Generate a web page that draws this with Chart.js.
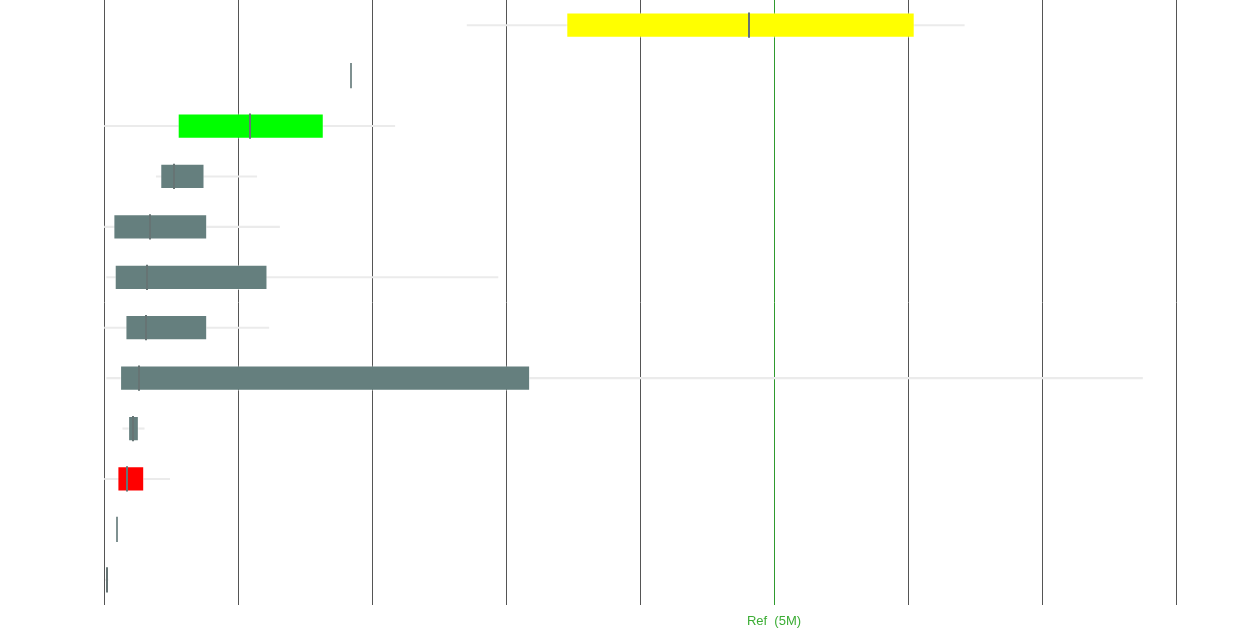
<!DOCTYPE html>
<html>
<head>
<meta charset="utf-8">
<script src="https://cdn.jsdelivr.net/npm/chart.js@4/dist/chart.umd.min.js"></script>
<style>
html,body{margin:0;padding:0;background:#fff;}
#wrap{width:1248px;height:632px;}
</style>
</head>
<body>
<div id="wrap"><canvas id="c" width="1248" height="632"></canvas></div>
<script>
// values in millions
const categories = ['A','B','C','D','E','F','G','H','I','J','K','L'];
const whiskerMin = [2.71, 1.84, 0.00, 0.39, 0.00, 0.02, 0.00, 0.02, 0.14, 0.00, 0.10, 0.01];
const q1Values   = [3.45, 1.84, 0.55, 0.42, 0.07, 0.08, 0.16, 0.12, 0.18, 0.10, 0.10, 0.01];
const medians    = [4.81, 1.84, 1.09, 0.52, 0.34, 0.32, 0.31, 0.26, 0.22, 0.17, 0.10, 0.02];
const q3Values   = [6.05, 1.84, 1.64, 0.75, 0.77, 1.22, 0.77, 3.18, 0.26, 0.30, 0.10, 0.03];
const whiskerMax = [6.42, 1.84, 2.17, 1.14, 1.31, 2.94, 1.23, 7.75, 0.30, 0.49, 0.10, 0.03];
const boxColors  = ['#ffff00','#657f7e','#00ff00','#657f7e','#657f7e','#657f7e','#657f7e','#657f7e','#657f7e','#ff0000','#657f7e','#657f7e'];
const xTicks = [0,1,2,3,4,5,6,7,8];
const refValue = 5;
const refLabel = 'Ref  (5M)';

const medianPlugin = {
  id: 'medianLines',
  afterDatasetsDraw(chart) {
    const ctx = chart.ctx;
    const xs = chart.scales.x;
    const meta = chart.getDatasetMeta(1);
    ctx.save();
    meta.data.forEach((bar, i) => {
      const x = Math.round(xs.getPixelForValue(medians[i]));
      const h = bar.height;
      ctx.strokeStyle = (q1Values[i] === q3Values[i]) ? '#7f9191' : '#667474';
      ctx.lineWidth = 2;
      ctx.beginPath();
      ctx.moveTo(x, bar.y - h / 2);
      ctx.lineTo(x, bar.y + h / 2);
      ctx.stroke();
    });
    ctx.restore();
  }
};

new Chart(document.getElementById('c'), {
  type: 'bar',
  data: {
    labels: categories,
    datasets: [
      {
        label: 'whisker',
        data: whiskerMin.map((v, i) => [v, whiskerMax[i]]),
        backgroundColor: '#ebebeb',
        borderWidth: 0,
        barThickness: 1.5,
        grouped: false,
        order: 2
      },
      {
        label: 'box',
        data: q1Values.map((v, i) => [v, q3Values[i]]),
        backgroundColor: boxColors,
        borderColor: 'rgba(255,255,255,0.55)',
        borderWidth: 1,
        borderSkipped: false,
        barPercentage: 0.5,
        categoryPercentage: 1,
        grouped: false,
        order: 1
      }
    ]
  },
  options: {
    indexAxis: 'y',
    responsive: false,
    animation: false,
    devicePixelRatio: 1,
    layout: { padding: { left: 104, right: 72, top: 0, bottom: 0 } },
    plugins: { legend: { display: false }, tooltip: { enabled: false } },
    scales: {
      x: {
        type: 'linear',
        min: 0,
        max: 8,
        afterBuildTicks(scale) { scale.ticks = xTicks.map(v => ({ value: v })); },
        afterFit(scale) { scale.height = 27; },
        border: { display: false },
        grid: {
          color: (c) => (c.tick && c.tick.value === refValue) ? '#2f9a2f' : '#555555',
          lineWidth: 1,
          drawTicks: false
        },
        ticks: {
          autoSkip: false,
          maxRotation: 0,
          padding: 9,
          color: '#3cad35',
          font: { family: 'Liberation Sans, Arial, sans-serif', size: 13 },
          callback: (v) => v === refValue ? refLabel : ''
        }
      },
      y: {
        display: false,
        grid: { display: false }
      }
    }
  },
  plugins: [medianPlugin]
});
</script>
</body>
</html>
